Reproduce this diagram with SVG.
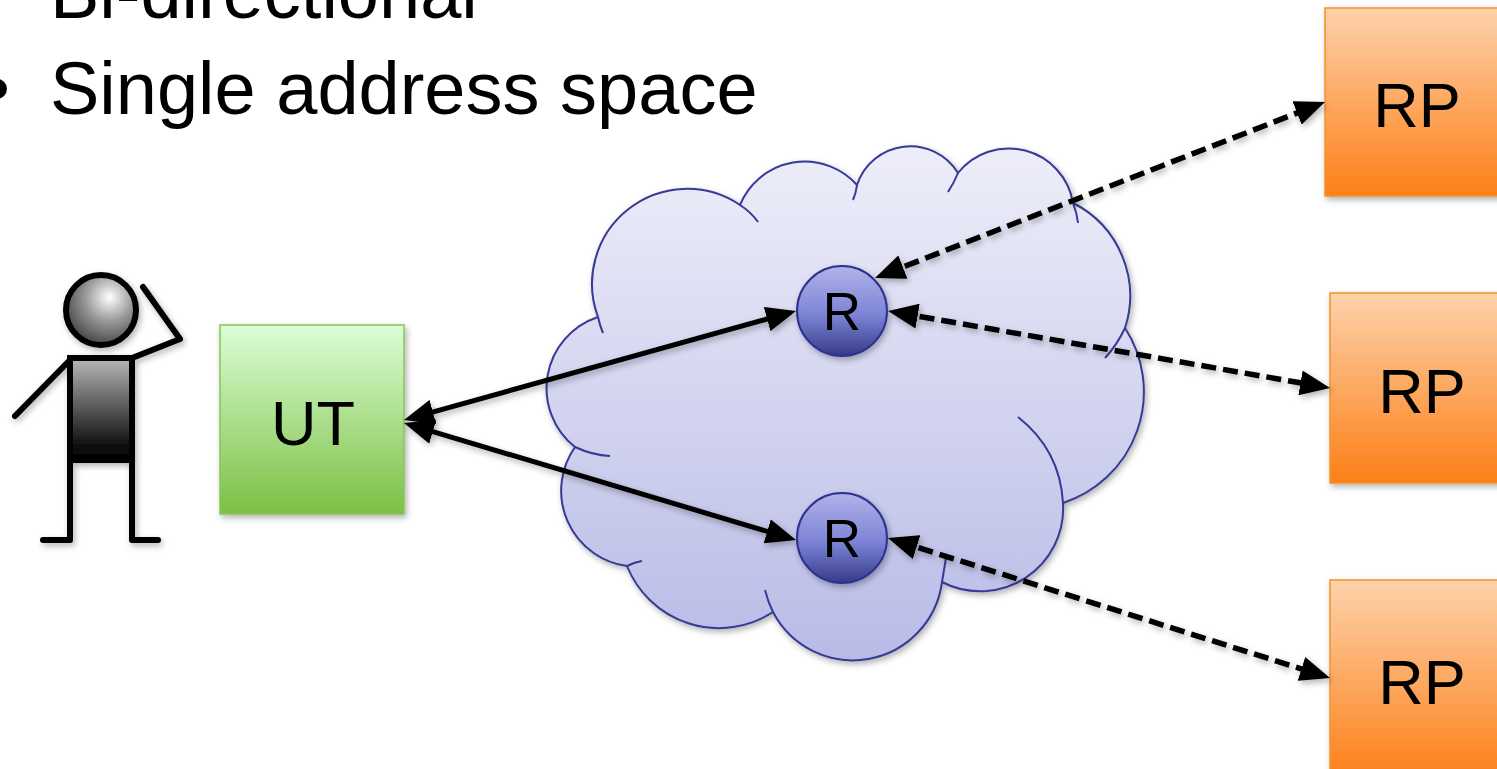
<svg xmlns="http://www.w3.org/2000/svg" width="1497" height="769" viewBox="0 0 1497 769">
<style>
.t{font-family:"Liberation Sans",Arial,sans-serif;fill:#000}
.big{font-size:74px}
.lbl{font-size:63px;text-anchor:middle}
.rl{font-size:53px;text-anchor:middle}
.fig{stroke:#000;stroke-width:6;stroke-linecap:round;stroke-linejoin:round;fill:none}
.tail{fill:none;stroke:#353a96;stroke-width:2}
.solid{stroke:#000;stroke-width:5;fill:none;marker-start:url(#ah);marker-end:url(#ah)}
.dash{stroke:#000;stroke-width:5.5;fill:none;stroke-dasharray:15 7;marker-start:url(#ah);marker-end:url(#ah)}
.rp{fill:url(#gO);stroke:#f39228;stroke-width:1.5}
.rc{fill:url(#gR);stroke:#2e3192;stroke-width:2}
</style>
<defs>
<linearGradient id="gC" x1="0" y1="0" x2="0" y2="1"><stop offset="0" stop-color="#eeeef9"/><stop offset="1" stop-color="#b8bbe6"/></linearGradient>
<linearGradient id="gG" x1="0" y1="0" x2="0" y2="1"><stop offset="0" stop-color="#dcfdd7"/><stop offset="1" stop-color="#7bc043"/></linearGradient>
<linearGradient id="gO" x1="0" y1="0" x2="0" y2="1"><stop offset="0" stop-color="#fdd2ab"/><stop offset="1" stop-color="#fd7f17"/></linearGradient>
<linearGradient id="gR" x1="0" y1="0" x2="0" y2="1"><stop offset="0" stop-color="#b0b3ea"/><stop offset="0.55" stop-color="#7c83d5"/><stop offset="1" stop-color="#353a88"/></linearGradient>
<linearGradient id="gT" x1="0" y1="0" x2="0" y2="1"><stop offset="0" stop-color="#b8b8b8"/><stop offset="0.85" stop-color="#111"/><stop offset="1" stop-color="#000"/></linearGradient>
<radialGradient id="gH" cx="0.62" cy="0.32" r="0.75"><stop offset="0" stop-color="#ffffff"/><stop offset="0.45" stop-color="#9a9a9a"/><stop offset="1" stop-color="#3a3a3a"/></radialGradient>
<filter id="sh" x="-20%" y="-20%" width="140%" height="140%"><feDropShadow dx="2" dy="3" stdDeviation="3" flood-color="#000" flood-opacity="0.3"/></filter>
<marker id="ah" markerUnits="userSpaceOnUse" markerWidth="30" markerHeight="25" viewBox="0 0 30 25" refX="20" refY="12.5" orient="auto-start-reverse"><path d="M0,0 L30,12.5 L0,25 Z" fill="#000"/></marker>
</defs>
<rect width="1497" height="769" fill="#fff"/>
<g id="bullets">
<text class="t big" x="50" y="18">Bi-directional</text>
<text class="t big" x="-16" y="114">•</text>
<text class="t big" x="50" y="114">Single address space</text>
</g>
<g id="person" filter="url(#sh)">
<line class="fig" x1="68" y1="362" x2="15" y2="416"/>
<polyline class="fig" points="132,358 180,339 143,287"/>
<polyline class="fig" points="43,540 70,540 70,460"/>
<polyline class="fig" points="132,460 132,540 158,540"/>
<rect x="70" y="358" width="62" height="102" fill="url(#gT)" stroke="#000" stroke-width="6"/>
<circle cx="101" cy="310" r="35" fill="url(#gH)" stroke="#000" stroke-width="6"/>
</g>
<g id="ut" filter="url(#sh)">
<rect x="220" y="325" width="184" height="189" fill="url(#gG)" stroke="#89c45a" stroke-width="1.5"/>
<text class="t lbl" x="313" y="445">UT</text>
</g>
<g id="cloud">
<path filter="url(#sh)" d="M575 447 A75 75 0 0 1 598 317 A95 95 0 0 1 740 205 A70 70 0 0 1 857 185 A56 56 0 0 1 958 173 A65 65 0 0 1 1073 203 A104 104 0 0 1 1125 328 A117 117 0 0 1 1063 503 A83 83 0 0 1 942 582 A90 90 0 0 1 773 612 A99 99 0 0 1 627 566 A76 76 0 0 1 575 447 Z" fill="url(#gC)" stroke="#353a96" stroke-width="2"/>
<path class="tail" d="M598 317 Q600 326 603 333 M740 205 Q751 212 758 222 M857 185 Q856 193 853 200 M958 173 Q954 183 948 192 M1073 203 Q1077 213 1078 223 M1125 328 Q1117 345 1105 358 M1018 417 Q1060 450 1063 503 M946 558 Q944 570 942 582 M765 590 Q768 602 773 612 M627 566 Q635 562 642 561 M575 447 Q592 455 610 456"/>
</g>
<g id="r1" filter="url(#sh)">
<circle class="rc" cx="842" cy="311" r="45"/>
<text class="t rl" x="842" y="330">R</text>
</g>
<g id="r2" filter="url(#sh)">
<circle class="rc" cx="842" cy="538" r="45"/>
<text class="t rl" x="842" y="557">R</text>
</g>
<g id="rp1" filter="url(#sh)">
<rect class="rp" x="1325" y="8" width="184" height="188"/>
<text class="t lbl" x="1417" y="127">RP</text>
</g>
<g id="rp2" filter="url(#sh)">
<rect class="rp" x="1330" y="293" width="184" height="190"/>
<text class="t lbl" x="1422" y="413">RP</text>
</g>
<g id="rp3" filter="url(#sh)">
<rect class="rp" x="1330" y="580" width="184" height="200"/>
<text class="t lbl" x="1422" y="704">RP</text>
</g>
<g id="connectors" filter="url(#sh)">
<line class="solid" x1="413.6" y1="417.3" x2="786.4" y2="313.7"/>
<line class="solid" x1="413.6" y1="425.9" x2="786.4" y2="537.1"/>
<line class="dash" x1="884.3" y1="274.3" x2="1315.7" y2="105.7"/>
<line class="dash" x1="897.9" y1="312.7" x2="1320.2" y2="386.3"/>
<line class="dash" x1="897.5" y1="541" x2="1320.5" y2="675"/>
</g>
</svg>
